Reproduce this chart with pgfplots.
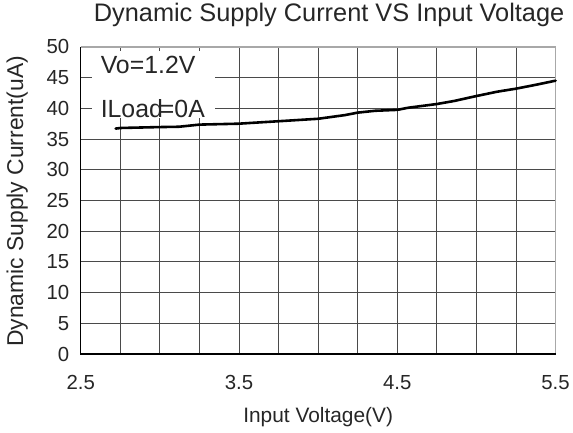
\documentclass[border=0pt]{standalone}
\usepackage{pgfplots}
\pgfplotsset{compat=1.18}
\usepackage{fontspec}
\setmainfont{Liberation Sans}
\definecolor{gridc}{HTML}{4A4A4A}
\definecolor{framec}{HTML}{A8A8A8}
\begin{document}
\begin{tikzpicture}
\begin{axis}[
  scale only axis,
  width=476bp, height=308bp,
  at={(0,0)}, anchor=south west,
  xmin=2.5, xmax=5.5, ymin=0, ymax=50,
  xtick={2.5,2.75,3,3.25,3.5,3.75,4,4.25,4.5,4.75,5,5.25,5.5},
  xticklabels={2.5,,,,3.5,,,,4.5,,,,5.5},
  ytick={0,5,...,50},
  major tick length=0pt,
  grid=major,
  major grid style={draw=gridc, line width=0.9bp},
  axis line style={draw=none},
  clip=false,
  /pgf/number format/assume math mode=true,
  ticklabel style={font=\fontsize{20.5}{24}\selectfont, text=black!85},
  xticklabel style={yshift=-18bp},
  yticklabel style={xshift=-8bp},
  title={Dynamic Supply Current VS Input Voltage},
  title style={at={(axis description cs:0.523,1.084)}, anchor=center, font=\fontsize{25.5}{30}\selectfont, text=black!85},
  xlabel={Input Voltage(V)},
  xlabel style={at={(axis description cs:0.5,-0.205)}, anchor=center, font=\fontsize{21}{25}\selectfont, text=black!85},
  ylabel={Dynamic Supply Current(uA)},
  ylabel style={at={(axis description cs:-0.134,0.497)}, anchor=center, font=\fontsize{23}{27}\selectfont, text=black!85},
]
\draw[framec, line width=1.6bp] (rel axis cs:0,1) -- (rel axis cs:1,1) -- (rel axis cs:1,0);
\draw[black, line width=1.3bp] (rel axis cs:0,1) -- (rel axis cs:0,0) -- (rel axis cs:1,0);
\fill[white] (axis cs:2.57,49.3) rectangle (axis cs:3.35,38.4);
\node[anchor=west, inner sep=0pt, font=\fontsize{25}{29}\selectfont, text=black!85] at (axis cs:2.625,47.0) {Vo=1.2V};
\node[anchor=west, inner sep=0pt, font=\fontsize{25}{29}\selectfont, text=black!85] at (axis cs:2.625,40.0) {ILoad\kern-3bp=0A};
\addplot[black, line width=2.6bp, line join=round, line cap=round] coordinates {
(2.72,36.7) (2.75,36.8) (3.0,36.95) (3.12,37.0) (3.25,37.35) (3.5,37.5)
(3.56,37.6) (3.75,37.9) (4.0,38.3) (4.17,38.9) (4.25,39.3) (4.36,39.6)
(4.5,39.75) (4.57,40.1) (4.75,40.7) (4.86,41.2) (5.0,42.0) (5.13,42.7)
(5.25,43.2) (5.37,43.8) (5.5,44.5)
};
\end{axis}
\path (-81bp,-79bp) rectangle (492bp,353bp);
\end{tikzpicture}
\end{document}
